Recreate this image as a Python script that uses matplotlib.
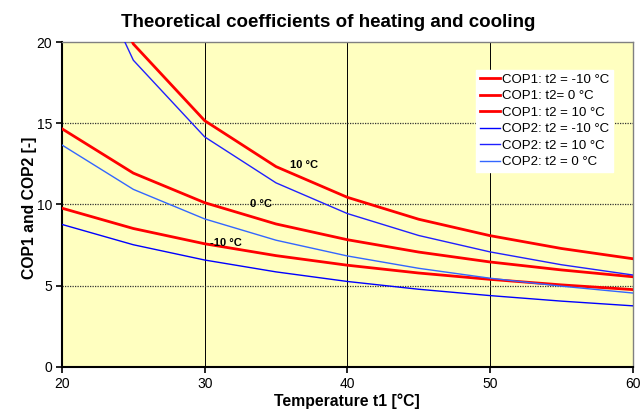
import matplotlib
matplotlib.use("Agg")
import matplotlib.pyplot as plt

plt.rcParams['font.family'] = ['Liberation Sans', 'DejaVu Sans']

t1 = [20, 25, 30, 35, 40, 45, 50, 55, 60]
cop1_m10 = [9.77, 8.52, 7.58, 6.85, 6.26, 5.78, 5.39, 5.05, 4.76]
cop1_0 = [14.66, 11.93, 10.11, 8.80, 7.83, 7.07, 6.46, 5.97, 5.55]
cop1_10 = [29.3, 19.88, 15.16, 12.33, 10.44, 9.09, 8.08, 7.29, 6.66]
cop2_m10 = [8.77, 7.52, 6.58, 5.85, 5.26, 4.78, 4.39, 4.05, 3.76]
cop2_10 = [28.3, 18.88, 14.16, 11.33, 9.44, 8.09, 7.08, 6.29, 5.66]
cop2_0 = [13.66, 10.93, 9.11, 7.80, 6.83, 6.07, 5.46, 4.97, 4.55]

labels = ["COP1: t2 = -10 °C", "COP1: t2= 0 °C", "COP1: t2 = 10 °C",
          "COP2: t2 = -10 °C", "COP2: t2 = 10 °C", "COP2: t2 = 0 °C"]
xticks = [20, 30, 40, 50, 60]
yticks = [0, 5, 10, 15, 20]

fig = plt.figure(figsize=(6.43, 4.16), dpi=100)
ax = fig.add_axes([0.0964, 0.118, 0.8876, 0.781])
ax.set_facecolor('#FFFFC0')

series = [cop1_m10, cop1_0, cop1_10, cop2_m10, cop2_10, cop2_0]
colors = ['#FF0000', '#FF0000', '#FF0000', '#0000FF', '#2020FF', '#3366FF']
widths = [2.0, 2.0, 2.0, 1.0, 1.0, 1.0]
for s, c, w, l in zip(series, colors, widths, labels):
    ax.plot(t1, s, color=c, lw=w, label=l, zorder=3)

ax.set_xlim(20, 60)
ax.set_ylim(0, 20)
ax.set_xticks(xticks)
ax.set_yticks(yticks)
for x in xticks[1:-1]:
    ax.axvline(x, color='black', lw=0.7, zorder=1)
for y in yticks[1:-1]:
    ax.axhline(y, color='#333333', lw=0.9, ls=(0, (1, 1)), zorder=1)

for side in ['top', 'right']:
    ax.spines[side].set_color('#808080')
    ax.spines[side].set_linewidth(1.0)
for side in ['left', 'bottom']:
    ax.spines[side].set_color('black')
    ax.spines[side].set_linewidth(1.5)
ax.tick_params(axis='both', direction='out', length=4, width=1.2, labelsize=10, pad=3)

fig.text(0.51, 0.945, "Theoretical coefficients of heating and cooling", fontsize=13.5,
         fontweight='bold', ha='center', va='center')
ax.set_xlabel("Temperature t1 [°C]", fontsize=11.3, fontweight='bold', labelpad=2)
ax.set_ylabel("COP1 and COP2 [-]", fontsize=11.3, fontweight='bold')
ax.yaxis.set_label_coords(-0.044, 0.49)

ax.text(36.0, 12.4, "10 °C", fontsize=8, fontweight='bold', va='center', zorder=4)
ax.text(33.2, 10.0, "0 °C", fontsize=8, fontweight='bold', va='center', zorder=4)
ax.text(30.4, 7.6, "-10 °C", fontsize=8, fontweight='bold', va='center', zorder=4)

leg = ax.legend(loc='upper left', bbox_to_anchor=(0.725, 0.915), fontsize=9.5,
                frameon=True, fancybox=False, handlelength=1.5, handletextpad=0.2,
                labelspacing=0.32, borderpad=0.3, borderaxespad=0)
leg.get_frame().set_edgecolor('white')
leg.get_frame().set_facecolor('white')
leg.get_frame().set_alpha(1)

fig.savefig("out.png", dpi=100)
